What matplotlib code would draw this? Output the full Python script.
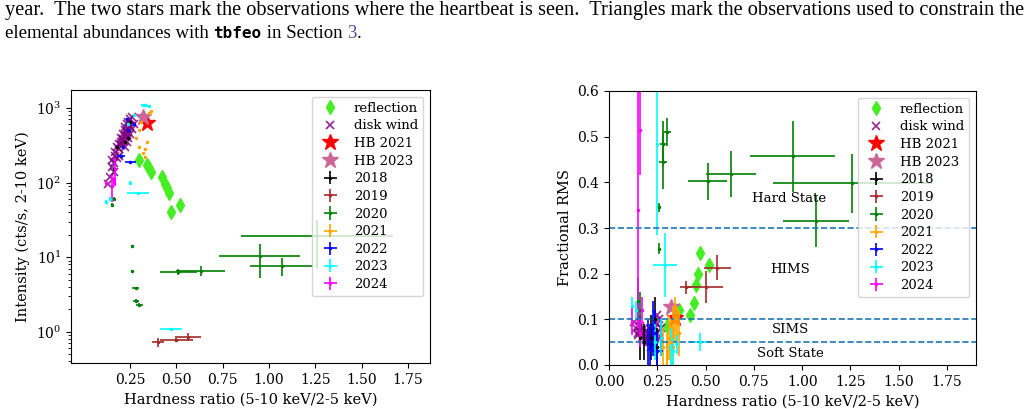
import matplotlib
matplotlib.use("Agg")
import matplotlib.pyplot as plt
import numpy as np

plt.rcParams['font.family'] = 'DejaVu Serif'
plt.rcParams['font.size'] = 10

# ---------- data ----------
refl_hr = [0.30, 0.34, 0.35, 0.36, 0.42, 0.44, 0.45, 0.46, 0.47, 0.52]
refl_int = [200, 170, 155, 140, 120, 95, 85, 73, 40, 50]
refl_rms = [0.085, 0.12, 0.11, 0.12, 0.11, 0.135, 0.175, 0.20, 0.245, 0.22]

wind_hr = [0.13, 0.14, 0.15, 0.15, 0.16, 0.17, 0.17, 0.18, 0.19, 0.19, 0.20, 0.20, 0.21,
           0.21, 0.22, 0.22, 0.22, 0.23, 0.23, 0.24, 0.24, 0.25, 0.25, 0.26, 0.20, 0.18, 0.23, 0.21,
           0.24, 0.25, 0.22, 0.19, 0.16, 0.26, 0.27, 0.23]
wind_int = [95, 120, 160, 200, 180, 230, 260, 300, 330, 280, 400, 350, 450,
            380, 500, 420, 550, 480, 600, 520, 650, 580, 700, 750, 320, 210, 430, 360,
            400, 450, 300, 230, 140, 520, 600, 350]
wind_rms = [0.095, 0.08, 0.07, 0.065, 0.075, 0.06, 0.07, 0.065, 0.055, 0.06, 0.05, 0.06, 0.055,
            0.065, 0.05, 0.06, 0.055, 0.07, 0.06, 0.08, 0.065, 0.09, 0.11, 0.10, 0.07, 0.08, 0.06, 0.05,
            0.045, 0.07, 0.04, 0.075, 0.085, 0.06, 0.08, 0.05]

hb21 = (0.34, 620, 0.102)
hb23 = (0.32, 750, 0.128)

yr2018_hr = [0.16, 0.18, 0.22, 0.24, 0.25]
yr2018_int = [150, 300, 350, 400, 650]
yr2018_xerr = [0.005, 0.005, 0.005, 0.005, 0.005]
yr2018_ierr = [5, 10, 10, 10, 15]
yr2018_rms = [0.06, 0.05, 0.06, 0.10, 0.04]
yr2018_rerr = [0.05, 0.04, 0.05, 0.05, 0.04]

yr2019_hr = [0.40, 0.50, 0.56]
yr2019_int = [0.72, 0.78, 0.85]
yr2019_xerr = [0.03, 0.09, 0.07]
yr2019_ierr = [0.1, 0.05, 0.1]
yr2019_rms = [0.17, 0.17, 0.213]
yr2019_rerr = [0.015, 0.035, 0.027]

yr2020_hr = [0.51, 0.63, 0.95, 1.07, 1.26, 0.26, 0.26, 0.28, 0.28, 0.30, 0.15, 0.16]
yr2020_int = [6.4, 6.6, 10.2, 7.6, 19, 14, 6.5, 3.8, 2.6, 2.3, 50, 60]
yr2020_xerr = [0.10, 0.13, 0.22, 0.17, 0.41, 0.005, 0.005, 0.02, 0.015, 0.02, 0.005, 0.005]
yr2020_ierr = [0.6, 1.0, 5.0, 2.0, 12, 0.5, 0.2, 0.1, 0.1, 0.1, 3, 3]
yr2020_rms = [0.402, 0.418, 0.457, 0.315, 0.398, 0.345, 0.255, 0.445, 0.485, 0.51, 0.14, 0.12]
yr2020_rerr = [0.04, 0.05, 0.078, 0.056, 0.065, 0.01, 0.012, 0.06, 0.05, 0.03, 0.05, 0.04]

yr2021_hr = [0.28, 0.30, 0.31, 0.32, 0.33, 0.33, 0.34, 0.35, 0.36, 0.30]
yr2021_int = [400, 300, 650, 250, 280, 220, 350, 850, 900, 500]
yr2021_xerr = [0.005] * 10
yr2021_ierr = [10, 8, 15, 8, 8, 6, 10, 20, 20, 12]
yr2021_rms = [0.04, 0.03, 0.06, 0.05, 0.08, 0.04, 0.10, 0.09, 0.07, 0.02]
yr2021_rerr = [0.04, 0.04, 0.05, 0.05, 0.05, 0.04, 0.05, 0.04, 0.05, 0.03]

yr2022_hr = [0.20, 0.25, 0.27, 0.23, 0.21, 0.24]
yr2022_int = [230, 190, 600, 700, 300, 500]
yr2022_xerr = [0.02, 0.03, 0.005, 0.005, 0.005, 0.005]
yr2022_ierr = [5, 5, 15, 15, 8, 10]
yr2022_rms = [0.05, 0.03, 0.06, 0.08, 0.04, 0.07]
yr2022_rerr = [0.05, 0.04, 0.04, 0.06, 0.05, 0.05]

yr2023_hr = [0.47, 0.29, 0.12, 0.14, 0.25, 0.32, 0.33, 0.27, 0.24, 0.35]
yr2023_int = [1.1, 72, 55, 60, 100, 1100, 1100, 800, 600, 1050]
yr2023_xerr = [0.06, 0.06, 0.005, 0.005, 0.005, 0.01, 0.01, 0.005, 0.005, 0.01]
yr2023_ierr = [0.03, 3, 3, 3, 4, 30, 30, 20, 15, 30]
yr2023_rms = [0.05, 0.22, 0.13, 0.12, 0.485, 0.04, 0.03, 0.06, 0.05, 0.045]
yr2023_rerr = [0.02, 0.07, 0.02, 0.02, 0.2, 0.04, 0.03, 0.04, 0.04, 0.02]

yr2024_hr = [0.12, 0.15, 0.16, 0.17, 0.16]
yr2024_int = [100, 90, 110, 150, 100]
yr2024_xerr = [0.005] * 5
yr2024_ierr = [5, 35, 10, 60, 5]
yr2024_rms = [0.095, 0.34, 0.515, 0.12, 0.07]
yr2024_rerr = [0.03, 0.26, 0.1, 0.03, 0.03]

years = [
    ('2018', 'black', yr2018_hr, yr2018_int, yr2018_rms, yr2018_xerr, yr2018_ierr, yr2018_rerr),
    ('2019', '#a52a2a', yr2019_hr, yr2019_int, yr2019_rms, yr2019_xerr, yr2019_ierr, yr2019_rerr),
    ('2020', 'green', yr2020_hr, yr2020_int, yr2020_rms, yr2020_xerr, yr2020_ierr, yr2020_rerr),
    ('2021', 'orange', yr2021_hr, yr2021_int, yr2021_rms, yr2021_xerr, yr2021_ierr, yr2021_rerr),
    ('2022', 'blue', yr2022_hr, yr2022_int, yr2022_rms, yr2022_xerr, yr2022_ierr, yr2022_rerr),
    ('2023', 'cyan', yr2023_hr, yr2023_int, yr2023_rms, yr2023_xerr, yr2023_ierr, yr2023_rerr),
    ('2024', 'magenta', yr2024_hr, yr2024_int, yr2024_rms, yr2024_xerr, yr2024_ierr, yr2024_rerr),
]

# ---------- figure ----------
fig = plt.figure(figsize=(10.34, 4.09), dpi=100)
W, H = 1034, 409
axL = fig.add_axes([71/W, (H-363)/H, (430-71)/W, (363-90)/H])
axR = fig.add_axes([609/W, (H-365)/H, (976-609)/W, (365-91)/H])

renderer = fig.canvas.get_renderer()
hfs = 13.5
line1 = "year.  The two stars mark the observations where the heartbeat is seen.  Triangles mark the observations used to constrain the"
t1 = fig.text(5/W, 1-10/H, line1, fontsize=hfs, va='center', ha='left', family='Liberation Serif')
w1 = t1.get_window_extent(renderer).width
t1.set_fontsize(hfs * 1023 / w1)

pieces = [("elemental abundances with ", {}), ("tbfeo", dict(family='DejaVu Sans Mono', weight='bold', fontsize=11.5)),
          (" in Section ", {}), ("3", dict(color='#4a4aa8')), (".", {})]
x = 5
for s, kw in pieces:
    k = dict(fontsize=hfs, va='center', ha='left', family='Liberation Serif')
    k.update(kw)
    t = fig.text(x/W, 1-33/H, s.replace(' ', '\u00a0'), **k)
    x += t.get_window_extent(renderer).width

ekw = dict(fmt='.', ms=3, elinewidth=1.2, capsize=0)

def draw(ax, right):
    ax.plot(refl_hr, refl_rms if right else refl_int, 'd', color='#44ee22', ms=7, ls='none', label='reflection')
    ax.plot(wind_hr, wind_rms if right else wind_int, 'x', color='purple', ms=6, mew=1.3, ls='none', label='disk wind', alpha=0.8)
    ax.plot([hb21[0]], [hb21[2] if right else hb21[1]], '*', color='red', ms=12, ls='none', label='HB 2021')
    ax.plot([hb23[0]], [hb23[2] if right else hb23[1]], '*', color='#cc6699', ms=12, ls='none', label='HB 2023')
    for lab, c, hr, inten, rms, xe, ie, re in years:
        ax.errorbar(hr, rms if right else inten, xerr=xe, yerr=re if right else ie, color=c, label=lab, **ekw)
    ax.legend(loc='upper right', fontsize=9.5, handletextpad=0.8, labelspacing=0.35, borderpad=0.4)
    ax.set_xlabel('Hardness ratio (5-10 keV/2-5 keV)', fontsize=10.5)
    ax.set_xticks([0.25, 0.5, 0.75, 1.0, 1.25, 1.5, 1.75] if not right else [0, 0.25, 0.5, 0.75, 1.0, 1.25, 1.5, 1.75])

draw(axL, False)
axL.set_yscale('log')
axL.set_xlim(-0.07, 1.87)
axL.set_ylim(0.38, 1740)
axL.set_ylabel('Intensity (cts/s, 2-10 keV)', fontsize=10.5)

draw(axR, True)
for v in [0.3, 0.1, 0.05]:
    axR.axhline(v, ls='--', color='#1f77b4', lw=1.2)
axR.set_xlim(0, 1.9)
axR.set_ylim(0, 0.6)
axR.set_ylabel('Fractional RMS', fontsize=10.5)
axR.text(0.93, 0.365, 'Hard State', ha='center', va='center', fontsize=9.5)
axR.text(0.94, 0.21, 'HIMS', ha='center', va='center', fontsize=9.5)
axR.text(0.94, 0.077, 'SIMS', ha='center', va='center', fontsize=9.5)
axR.text(0.94, 0.025, 'Soft State', ha='center', va='center', fontsize=9.5)

fig.savefig('out.png', dpi=100)
